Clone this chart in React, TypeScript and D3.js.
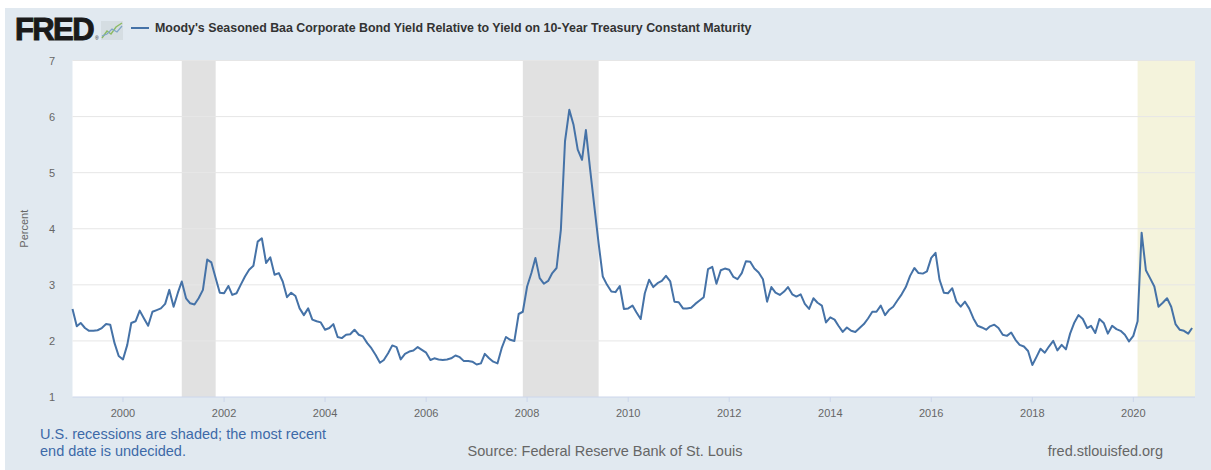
import React from "react";
import * as d3 from "d3";

const startYear = 1999;
const spread: number[] = [
  2.57, 2.26, 2.32, 2.23, 2.18, 2.18, 2.19, 2.23, 2.30, 2.29, 1.96, 1.73,
  1.67, 1.93, 2.32, 2.35, 2.54, 2.40, 2.27, 2.52, 2.55, 2.58, 2.66, 2.91,
  2.61, 2.86, 3.06, 2.76, 2.67, 2.65, 2.76, 2.91, 3.45, 3.40, 3.12, 2.86,
  2.85, 2.98, 2.82, 2.85, 3.00, 3.15, 3.27, 3.34, 3.77, 3.83, 3.39, 3.49,
  3.18, 3.21, 3.06, 2.78, 2.86, 2.80, 2.58, 2.46, 2.58, 2.38, 2.35, 2.33,
  2.20, 2.23, 2.30, 2.07, 2.05, 2.11, 2.12, 2.20, 2.11, 2.08, 1.96, 1.87,
  1.75, 1.61, 1.66, 1.78, 1.92, 1.89, 1.67, 1.77, 1.81, 1.83, 1.89, 1.84,
  1.79, 1.66, 1.69, 1.67, 1.66, 1.67, 1.69, 1.74, 1.71, 1.64, 1.64, 1.63,
  1.58, 1.60, 1.77, 1.69, 1.63, 1.60, 1.87, 2.07, 2.02, 2.00, 2.48, 2.52,
  2.97, 3.21, 3.48, 3.12, 3.02, 3.07, 3.21, 3.30, 3.98, 5.56, 6.12, 5.86,
  5.41, 5.23, 5.76, 5.05, 4.40, 3.74, 3.15, 3.00, 2.88, 2.87, 2.98, 2.57,
  2.58, 2.63, 2.51, 2.39, 2.85, 3.09, 2.96, 3.03, 3.07, 3.16, 3.06, 2.70,
  2.69, 2.58, 2.58, 2.59, 2.66, 2.72, 2.78, 3.28, 3.32, 3.02, 3.26, 3.29,
  3.27, 3.14, 3.10, 3.21, 3.42, 3.41, 3.29, 3.22, 3.10, 2.70, 2.96, 2.86,
  2.82, 2.88, 2.96, 2.83, 2.79, 2.83, 2.66, 2.57, 2.76, 2.68, 2.63, 2.33,
  2.42, 2.38, 2.27, 2.16, 2.24, 2.18, 2.16, 2.23, 2.30, 2.40, 2.52, 2.52,
  2.63, 2.46, 2.55, 2.61, 2.72, 2.83, 2.96, 3.16, 3.30, 3.21, 3.20, 3.24,
  3.48, 3.57, 3.09, 2.86, 2.85, 2.94, 2.70, 2.61, 2.70, 2.58, 2.40, 2.27,
  2.24, 2.20, 2.26, 2.29, 2.23, 2.11, 2.09, 2.15, 2.02, 1.93, 1.90, 1.82,
  1.57, 1.72, 1.86, 1.79, 1.90, 2.00, 1.83, 1.93, 1.85, 2.13, 2.33, 2.46,
  2.39, 2.23, 2.27, 2.14, 2.39, 2.32, 2.13, 2.27, 2.21, 2.18, 2.11, 1.99,
  2.09, 2.35, 3.93, 3.26, 3.12, 2.97, 2.61, 2.68, 2.76, 2.61, 2.30, 2.20,
  2.18, 2.13, 2.23,
];
const recessions: [string, string][] = [
  ["2001-03-01", "2001-11-01"],
  ["2007-12-01", "2009-06-01"],
];
const undecided: [string, string] = ["2020-02-01", "2021-03-22"];
const yTicks = [1, 2, 3, 4, 5, 6, 7];
const xTickYears = [2000, 2002, 2004, 2006, 2008, 2010, 2012, 2014, 2016, 2018, 2020];

const title =
  "Moody's Seasoned Baa Corporate Bond Yield Relative to Yield on 10-Year Treasury Constant Maturity";

export default function App() {
  const W = 1211;
  const H = 470;
  const left = 72.5;
  const right = 1195;
  const top = 60.5;
  const bottom = 397;
  const font = "'Liberation Sans', Arial, sans-serif";

  const data = spread.map((v, i) => ({
    date: new Date(startYear, i, 1),
    v,
  }));
  const x = d3
    .scaleTime()
    .domain([new Date(1999, 0, 1), new Date(2021, 2, 22)])
    .range([left, right]);
  const y = d3.scaleLinear().domain([1, 7]).range([bottom, top]);
  const line = d3
    .line<{ date: Date; v: number }>()
    .x((d) => x(d.date))
    .y((d) => y(d.v));
  const pd = (s: string) => {
    const [a, b, c] = s.split("-").map(Number);
    return new Date(a, b - 1, c);
  };

  return (
    <svg
      width={W}
      height={H}
      style={{ position: "absolute", left: 0, top: 0, fontFamily: font }}
    >
      <rect x={0} y={0} width={W} height={H} fill="#ffffff" />
      <rect x={5} y={8} width={W - 5} height={H - 8} fill="#e1e9f0" />
      <rect x={left} y={top} width={right - left} height={bottom - top} fill="#ffffff" />
      {recessions.map(([a, b], i) => (
        <rect
          key={i}
          x={x(pd(a))}
          y={top}
          width={x(pd(b)) - x(pd(a))}
          height={bottom - top}
          fill="#e1e1e1"
        />
      ))}
      <rect
        x={x(pd(undecided[0]))}
        y={top}
        width={x(pd(undecided[1])) - x(pd(undecided[0]))}
        height={bottom - top}
        fill="#f4f3dc"
      />
      {yTicks.map((t) => (
        <g key={t}>
          {t > 1 && (
            <line x1={left} x2={right} y1={y(t)} y2={y(t)} stroke="#e6e6e6" strokeWidth={1} />
          )}
          <text x={55} y={y(t) + 4} textAnchor="end" fontSize={11} fill="#666666">
            {t}
          </text>
        </g>
      ))}
      <line x1={left} x2={right} y1={bottom} y2={bottom} stroke="#ccd6eb" strokeWidth={1} />
      {xTickYears.map((yr) => {
        const xx = x(new Date(yr, 0, 1));
        return (
          <g key={yr}>
            <line x1={xx} x2={xx} y1={bottom} y2={bottom + 5} stroke="#ccd6eb" />
            <text x={xx} y={417} textAnchor="middle" fontSize={11} fill="#666666">
              {yr}
            </text>
          </g>
        );
      })}
      <text
        transform={`translate(28,${(top + bottom) / 2}) rotate(-90)`}
        textAnchor="middle"
        fontSize={11}
        fill="#666666"
      >
        Percent
      </text>
      <path d={line(data) || ""} fill="none" stroke="#4572a7" strokeWidth={2} strokeLinejoin="round" />

      {/* FRED logo */}
      <text
        x={15}
        y={40}
        fontSize={31}
        fontWeight={900}
        fill="#1a1a1a"
        stroke="#1a1a1a"
        strokeWidth={1}
        letterSpacing={-1.6}
      >
        FRED
      </text>
      <text x={95} y={40} fontSize={5} fill="#1a1a1a">®</text>
      <rect x={101} y={21} width={22} height={19} fill="#d5dde2" />
      <polyline points="102,38 107,31 111,34 116,27 122,23" fill="none" stroke="#8dbb63" strokeWidth={1.4} />
      <polyline points="102,36 107,34 112,29 117,32 122,26" fill="none" stroke="#7fa6c6" strokeWidth={1.2} />

      <line x1={131} x2={149} y1={28} y2={28} stroke="#4572a7" strokeWidth={2} />
      <text x={155} y={32} fontSize={12.4} fontWeight="bold" fill="#333333">
        {title}
      </text>

      <text x={40} y={439} fontSize={14.5} fill="#3d6aa8">
        U.S. recessions are shaded; the most recent
      </text>
      <text x={40} y={456} fontSize={14.5} fill="#3d6aa8">
        end date is undecided.
      </text>
      <text x={605} y={456} textAnchor="middle" fontSize={14.5} fill="#666666">
        Source: Federal Reserve Bank of St. Louis
      </text>
      <text x={1163} y={456} textAnchor="end" fontSize={14.5} fill="#666666">
        fred.stlouisfed.org
      </text>
    </svg>
  );
}
